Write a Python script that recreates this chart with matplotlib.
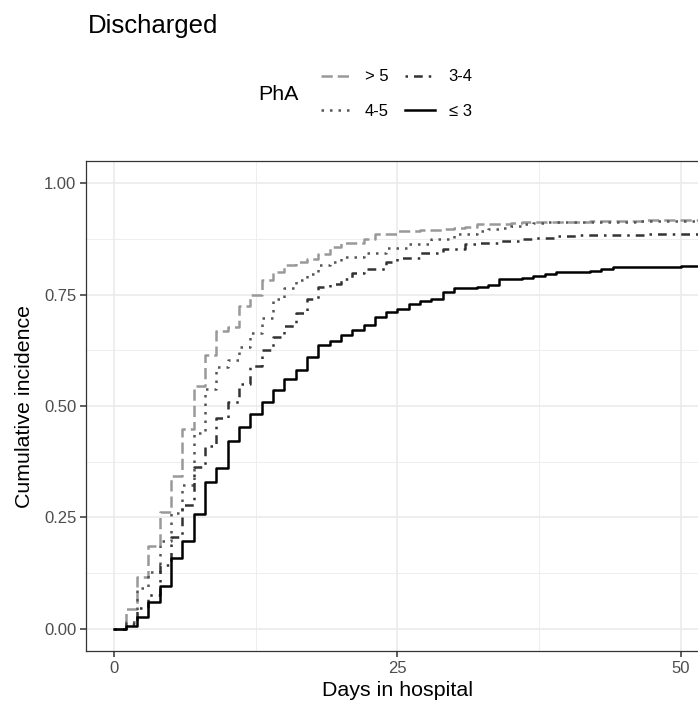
import matplotlib
matplotlib.use("Agg")
import matplotlib.pyplot as plt
import numpy as np

plt.rcParams['font.family'] = ['Liberation Sans', 'DejaVu Sans']

# days 0..50, cumulative incidence
days = np.arange(0, 51)

gt5 = [0, 0.045, 0.117, 0.185, 0.262, 0.342, 0.449, 0.544, 0.614, 0.668,
       0.678, 0.724, 0.749, 0.783, 0.801, 0.816, 0.824, 0.831, 0.842, 0.857,
       0.865, 0.865, 0.874, 0.887, 0.887, 0.893, 0.893, 0.896, 0.896, 0.898,
       0.900, 0.902, 0.908, 0.908, 0.908, 0.910, 0.912, 0.913, 0.913, 0.913,
       0.914, 0.914, 0.915, 0.915, 0.915, 0.916, 0.916, 0.917, 0.917, 0.917,
       0.917]

p45 = [0, 0.016, 0.091, 0.128, 0.196, 0.259, 0.323, 0.440, 0.539, 0.588,
       0.603, 0.633, 0.663, 0.697, 0.741, 0.764, 0.782, 0.797, 0.816, 0.824,
       0.835, 0.835, 0.844, 0.844, 0.855, 0.855, 0.863, 0.863, 0.876, 0.876,
       0.887, 0.887, 0.893, 0.898, 0.900, 0.905, 0.908, 0.910, 0.912, 0.912,
       0.913, 0.913, 0.913, 0.914, 0.914, 0.914, 0.915, 0.915, 0.915, 0.915,
       0.915]

p34 = [0, 0.010, 0.046, 0.076, 0.143, 0.207, 0.278, 0.364, 0.410, 0.472,
       0.510, 0.550, 0.590, 0.625, 0.655, 0.680, 0.708, 0.740, 0.767, 0.775,
       0.786, 0.799, 0.807, 0.807, 0.823, 0.833, 0.833, 0.843, 0.843, 0.853,
       0.853, 0.863, 0.866, 0.866, 0.870, 0.870, 0.875, 0.878, 0.878, 0.881,
       0.881, 0.883, 0.883, 0.884, 0.885, 0.885, 0.885, 0.886, 0.886, 0.887,
       0.887]

le3 = [0, 0.006, 0.026, 0.059, 0.097, 0.158, 0.198, 0.257, 0.330, 0.360,
       0.421, 0.453, 0.481, 0.510, 0.537, 0.560, 0.580, 0.610, 0.636, 0.645,
       0.659, 0.670, 0.682, 0.700, 0.710, 0.717, 0.728, 0.735, 0.741, 0.756,
       0.765, 0.765, 0.768, 0.772, 0.784, 0.784, 0.788, 0.791, 0.797, 0.800,
       0.800, 0.800, 0.803, 0.807, 0.811, 0.812, 0.812, 0.812, 0.812, 0.812,
       0.815]

labels = ["> 5", "4-5", "3-4", "\u2264 3"]
series = [gt5, p45, p34, le3]
colors = ["#999999", "#555555", "#333333", "#000000"]
styles = [(0, (4.5, 2)), (0, (1, 2.4)), (0, (1, 2.4, 3.5, 2.4)), "-"]

fig = plt.figure(figsize=(6.98, 7.07), dpi=100)
ax = fig.add_axes([86 / 698, 1 - 651 / 707, 623 / 698, 490 / 707])

# extend each curve to the right edge of the panel
x_ext = np.append(days, 53)
for lab, vals, col, ls in zip(labels, series, colors, styles):
    y_ext = np.append(vals, vals[-1])
    ax.step(x_ext, y_ext, where="post", color=col, linestyle=ls,
            linewidth=1.8, label=lab)

ax.set_xlim(-2.5, 52.5)
ax.set_ylim(-0.05, 1.05)
ax.set_xticks([0, 25, 50])
ax.set_xticks([12.5, 37.5], minor=True)
ax.set_yticks([0, 0.25, 0.5, 0.75, 1.0])
ax.set_yticklabels(["0.00", "0.25", "0.50", "0.75", "1.00"])
ax.set_yticks([0.125, 0.375, 0.625, 0.875], minor=True)
ax.grid(which="major", color="#EBEBEB", linewidth=1.2)
ax.grid(which="minor", color="#EBEBEB", linewidth=0.6)
ax.set_axisbelow(True)
for sp in ax.spines.values():
    sp.set_color("#333333")
    sp.set_linewidth(0.9)
ax.tick_params(which="major", length=4, width=1.1, color="#333333",
               labelcolor="#4D4D4D", labelsize=12, pad=3)
ax.tick_params(which="minor", length=0)

ax.set_xlabel("Days in hospital", fontsize=15.4, labelpad=4)
ax.set_ylabel("Cumulative incidence", fontsize=15.4, labelpad=7)

fig.text(88 / 698, 1 - 33 / 707, "Discharged", fontsize=18.5, va="baseline")

fig.text(258 / 698, 1 - 95 / 707, "PhA", fontsize=15.4, va="center")
fig.legend(loc="center", bbox_to_anchor=(397 / 698, 1 - 94 / 707), ncol=2,
           frameon=False, fontsize=12, handlelength=1.8, handletextpad=0.8,
           columnspacing=1.0, labelspacing=1.15)

fig.savefig("out.png", dpi=100)
